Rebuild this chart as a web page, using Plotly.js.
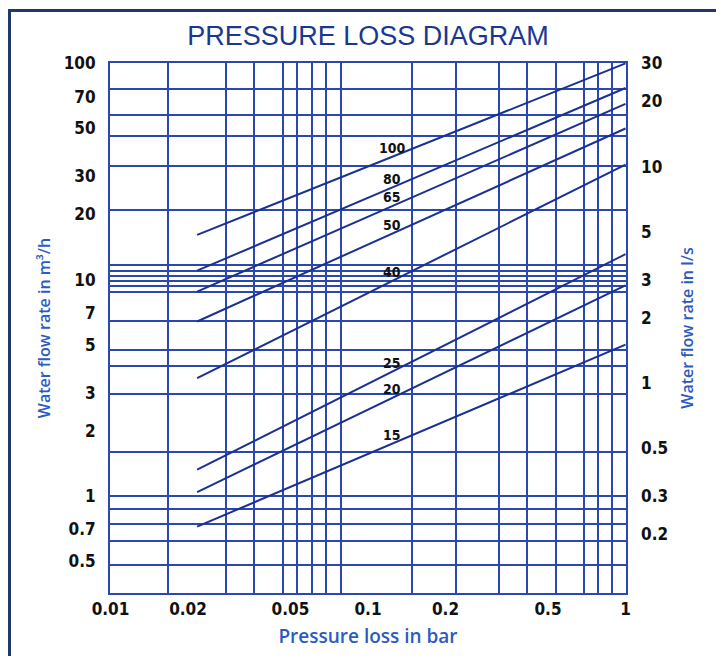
<!DOCTYPE html>
<html>
<head>
<meta charset="utf-8">
<script src="https://cdn.plot.ly/plotly-3.0.1.min.js"></script>
<style>
html,body{margin:0;padding:0;background:#fff;}
#chart{position:absolute;left:0;top:0;width:716px;height:656px;}
#frame{position:absolute;left:8px;top:9px;width:708px;height:647px;border-left:3px solid #1f3a68;border-top:3px solid #1f3a68;box-sizing:border-box;pointer-events:none;}
</style>
</head>
<body>
<div id="chart"></div>
<div id="frame"></div>
<script>
// ---- data ----
const pipeSizes     = ['100', '80', '65', '50', '40', '25', '20', '15'];   // nominal diameter
const pressureStart = [0.0217, 0.0217, 0.0217, 0.0217, 0.0217, 0.0217, 0.0217, 0.0217]; // bar
const pressureEnd   = [1, 1, 1, 1, 1, 1, 1, 1];                              // bar
const flowStart     = [16.1, 11.0, 8.8, 6.4, 3.5, 1.32, 1.04, 0.72];         // m3/h
const flowEnd       = [100, 77, 65, 50, 34, 13.1, 9.4, 5.0];                  // m3/h

const xTickVals  = [0.01, 0.02, 0.05, 0.1, 0.2, 0.5, 1];
const xTickText  = ['0.01', '0.02', '0.05', '0.1', '0.2', '0.5', '1'];
const yTickVals  = [100, 70, 50, 30, 20, 10, 7, 5, 3, 2, 1, 0.7, 0.5];
const yTickText  = ['100', '70', '50', '30', '20', '10', '7', '5', '3', '2', '1', '0.7', '0.5'];
const y2TickVals = [30, 20, 10, 5, 3, 2, 1, 0.5, 0.3, 0.2];
const y2TickText = ['30', '20', '10', '5', '3', '2', '1', '0.5', '0.3', '0.2'];

// grid lines as drawn in the reference
const xGrid = [0.0167, 0.028, 0.0362, 0.0468, 0.0532, 0.0606, 0.0687, 0.0782, 0.148, 0.219, 0.323, 0.416, 0.537, 0.693, 0.785, 0.89];
const yGrid = [76, 58, 46, 33.5, 21, 11.7, 11, 10.4, 9.85, 9.3, 8.8, 6.4, 4.7, 4.0, 2.95, 1.6, 1.0, 0.87, 0.74, 0.62, 0.48];

const labelPressure = 0.124;    // where the size labels sit along the lines
const rightAxisFactor = 0.3;    // l/s per m3/h as the reference's right scale is drawn

// ---- styles ----
const gridColor = '#2b47b0';
const lineColor = '#1a3192';
const tickFont  = {family: 'Liberation Sans Narrow, DejaVu Sans Condensed, Arial Narrow, sans-serif', size: 17, color: '#111111', weight: 'bold'};
const xTitleFont = {family: 'Open Sans, Liberation Sans, sans-serif', size: 19, color: '#2c5bbf', weight: 600};
const yTitleFont = {family: 'Open Sans, Liberation Sans, sans-serif', size: 16, color: '#2c5bbf', weight: 600};
const L = Math.log10;

const traces = pipeSizes.map((s, i) => ({
  type: 'scatter', mode: 'lines', name: 'DN ' + s,
  x: [pressureStart[i], pressureEnd[i]],
  y: [flowStart[i], flowEnd[i]],
  line: {color: lineColor, width: 2},
  hoverinfo: 'name+x+y', showlegend: false, xaxis: 'x', yaxis: 'y'
}));
traces.push({type: 'scatter', mode: 'lines', x: [], y: [], xaxis: 'x', yaxis: 'y2', showlegend: false, hoverinfo: 'skip'});

const annotations = pipeSizes.map((s, i) => {
  const t = (L(labelPressure) - L(pressureStart[i])) / (L(pressureEnd[i]) - L(pressureStart[i]));
  const ly = L(flowStart[i]) + t * (L(flowEnd[i]) - L(flowStart[i]));
  return {
    x: L(labelPressure), y: ly, xref: 'x', yref: 'y', text: s, showarrow: false,
    yshift: 9, xanchor: 'center', yanchor: 'middle',
    font: {family: 'Liberation Sans Narrow, DejaVu Sans Condensed, sans-serif', size: 14, color: '#111111', weight: 'bold'}
  };
});

const yRange = [-0.45, 2.002];

const layout = {
  width: 716, height: 656,
  margin: {l: 110, r: 90, t: 63, b: 63, pad: 0},
  paper_bgcolor: 'rgba(0,0,0,0)', plot_bgcolor: 'rgba(0,0,0,0)',
  showlegend: false,
  title: {
    text: 'PRESSURE LOSS DIAGRAM',
    font: {family: 'Liberation Sans, Arial, sans-serif', size: 27, color: '#1b3790', weight: 500},
    x: 0.5, xref: 'paper', xanchor: 'center', y: 1 - 36 / 656, yref: 'container', yanchor: 'middle'
  },
  xaxis: {
    type: 'log', range: [-2.002, 0.002],
    tickmode: 'array', tickvals: xTickVals, ticktext: xTickText,
    showgrid: false, zeroline: false, ticks: '',
    minor: {tickmode: 'array', tickvals: xGrid, showgrid: true, gridcolor: gridColor, gridwidth: 2, ticks: ''},
    showline: true, mirror: true, linecolor: gridColor, linewidth: 2,
    tickfont: tickFont, ticklabelstandoff: 0,
    title: {text: 'Pressure loss in bar', font: xTitleFont, standoff: 11}
  },
  yaxis: {
    type: 'log', range: yRange,
    tickmode: 'array', tickvals: yTickVals, ticktext: yTickText,
    showgrid: false, zeroline: false, ticks: '',
    minor: {tickmode: 'array', tickvals: yGrid, showgrid: true, gridcolor: gridColor, gridwidth: 2, ticks: ''},
    showline: true, mirror: true, linecolor: gridColor, linewidth: 2,
    tickfont: tickFont, ticklabelstandoff: 9,
    title: {text: 'Water flow rate in m³/h', font: yTitleFont, standoff: 9}
  },
  yaxis2: {
    type: 'log', overlaying: 'y', side: 'right',
    range: [yRange[0] + L(rightAxisFactor), yRange[1] + L(rightAxisFactor)],
    tickmode: 'array', tickvals: y2TickVals, ticktext: y2TickText,
    showgrid: false, zeroline: false, ticks: '', showline: false,
    tickfont: tickFont, ticklabelstandoff: 14,
    title: {text: 'Water flow rate in l/s', font: yTitleFont, standoff: 14}
  },
  annotations: annotations
};

Plotly.newPlot('chart', traces, layout, {staticPlot: true, displayModeBar: false});
</script>
</body>
</html>
